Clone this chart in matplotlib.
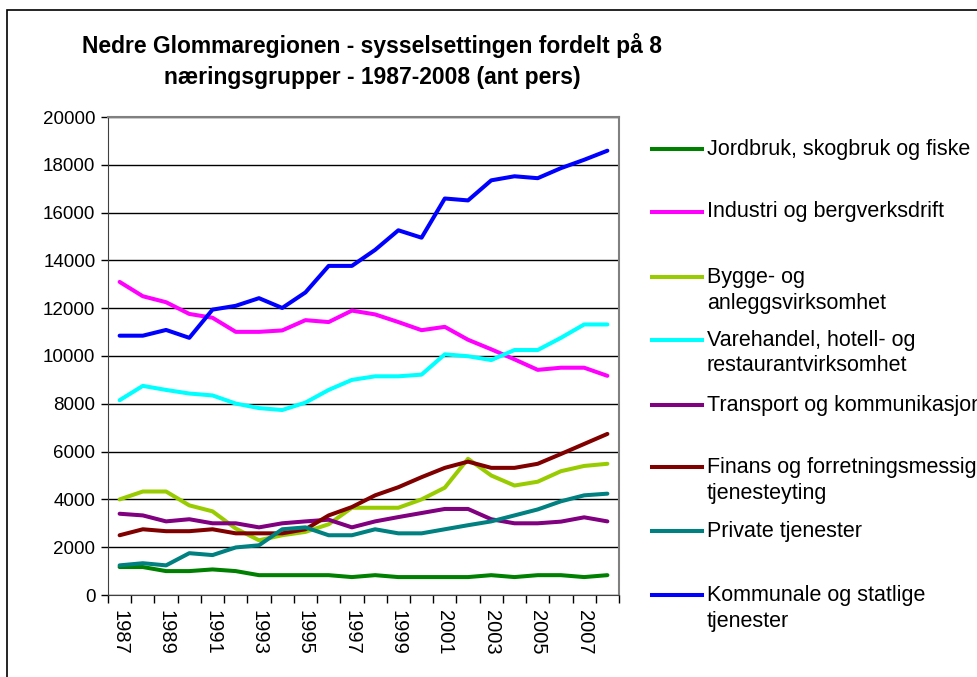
import numpy as np
import matplotlib
matplotlib.use("Agg")
import matplotlib.pyplot as plt
from matplotlib.lines import Line2D
from matplotlib.patches import Rectangle

plt.rcParams['font.family'] = ['Liberation Sans', 'DejaVu Sans']

years = list(range(1987, 2009))

# sysselsatte per naeringsgruppe (lest av figuren)
jordbruk = [1170, 1170, 1000, 1000, 1070, 1000, 830, 830, 830, 830, 750, 830,
            750, 750, 750, 750, 830, 750, 830, 830, 750, 830]
industri = [13100, 12500, 12250, 11760, 11600, 11010, 11010, 11070, 11500, 11420, 11900, 11740,
            11420, 11080, 11220, 10680, 10280, 9860, 9420, 9510, 9510, 9170]
bygge = [4000, 4330, 4330, 3750, 3500, 2780, 2290, 2500, 2640, 2960, 3650, 3650,
         3650, 4000, 4490, 5700, 5000, 4580, 4740, 5180, 5400, 5490]
varehandel = [8150, 8750, 8580, 8430, 8350, 8010, 7820, 7740, 8050, 8580, 9000, 9150,
              9150, 9220, 10070, 9990, 9830, 10250, 10250, 10760, 11320, 11320]
transport = [3400, 3330, 3080, 3170, 3000, 3000, 2830, 3000, 3080, 3150, 2830, 3080,
             3260, 3430, 3600, 3600, 3170, 3000, 3000, 3070, 3250, 3080]
finans = [2500, 2750, 2670, 2670, 2750, 2580, 2580, 2580, 2750, 3330, 3680, 4170,
          4510, 4930, 5320, 5580, 5320, 5320, 5490, 5900, 6320, 6740]
private = [1240, 1330, 1240, 1750, 1670, 1990, 2080, 2750, 2830, 2500, 2500, 2750,
           2580, 2580, 2750, 2920, 3080, 3330, 3580, 3920, 4170, 4240]
kommunale = [10850, 10850, 11090, 10760, 11940, 12100, 12420, 12010, 12660, 13770, 13770, 14440,
             15260, 14950, 16590, 16510, 17350, 17520, 17440, 17860, 18210, 18590]

labels = ['Jordbruk, skogbruk og fiske', 'Industri og bergverksdrift',
          'Bygge- og\nanleggsvirksomhet', 'Varehandel, hotell- og\nrestaurantvirksomhet',
          'Transport og kommunikasjon', 'Finans og forretningsmessig\ntjenesteyting',
          'Private tjenester', 'Kommunale og statlige\ntjenester']
colors = ['#008000', '#FF00FF', '#99CC00', '#00FFFF',
          '#800080', '#800000', '#008080', '#0000FF']
series = [jordbruk, industri, bygge, varehandel, transport, finans, private, kommunale]

W, H = 978, 677
fig = plt.figure(figsize=(W / 100, H / 100), dpi=100)
ax = fig.add_axes([108 / W, 1 - 595 / H, (619 - 108) / W, (595 - 117) / H])

x = np.arange(len(years))
for vals, col, lab in zip(series, colors, labels):
    ax.plot(x, vals, color=col, linewidth=2.9, label=lab, solid_capstyle='round')

ax.set_xlim(-0.5, len(years) - 0.5)
ax.set_ylim(0, 20000)
ax.set_yticks(np.arange(0, 20001, 2000))
ax.yaxis.grid(True, color='black', linewidth=1)
ax.set_axisbelow(True)
ax.tick_params(axis='y', labelsize=13.5, length=5, width=1, direction='out', pad=4)

ax.set_xticks(x[::2])
ax.set_xticklabels([str(y) for y in years[::2]], rotation=-90, fontsize=14.5)
ax.set_xticks(np.arange(-0.5, len(years)), minor=True)
ax.tick_params(axis='x', which='major', length=0, pad=11)
ax.tick_params(axis='x', which='minor', length=6, width=1, direction='out')

for s in ['top', 'right']:
    ax.spines[s].set_color('#808080')
    ax.spines[s].set_linewidth(1.5)
ax.spines['left'].set_color('#404040')
ax.spines['bottom'].set_color('#404040')

# tittel
fig.text(372 / W, 1 - 53 / H, 'Nedre Glommaregionen - sysselsettingen fordelt på 8',
         ha='center', va='baseline', fontsize=16.5, fontweight='bold')
fig.text(372 / W, 1 - 84 / H, 'næringsgrupper - 1987-2008 (ant pers)',
         ha='center', va='baseline', fontsize=16.5, fontweight='bold')

# forklaring
leg_y = [149, 212, 277, 340, 405, 467, 531, 595]
for yy, col, lab in zip(leg_y, colors, labels):
    fig.add_artist(Line2D([652 / W, 702 / W], [1 - yy / H, 1 - yy / H],
                          transform=fig.transFigure, color=col, linewidth=2.9))
    for i, part in enumerate(lab.split('\n')):
        fig.text(707 / W, 1 - (yy + i * 26) / H, part, ha='left', va='center',
                 fontsize=15.5)

# ramme rundt diagrammet
fig.add_artist(Rectangle((7 / W, -0.05), 1.1, 1.05 - 10 / H, transform=fig.transFigure,
                         fill=False, edgecolor='black', linewidth=1.2))

fig.savefig('out.png', dpi=100)
